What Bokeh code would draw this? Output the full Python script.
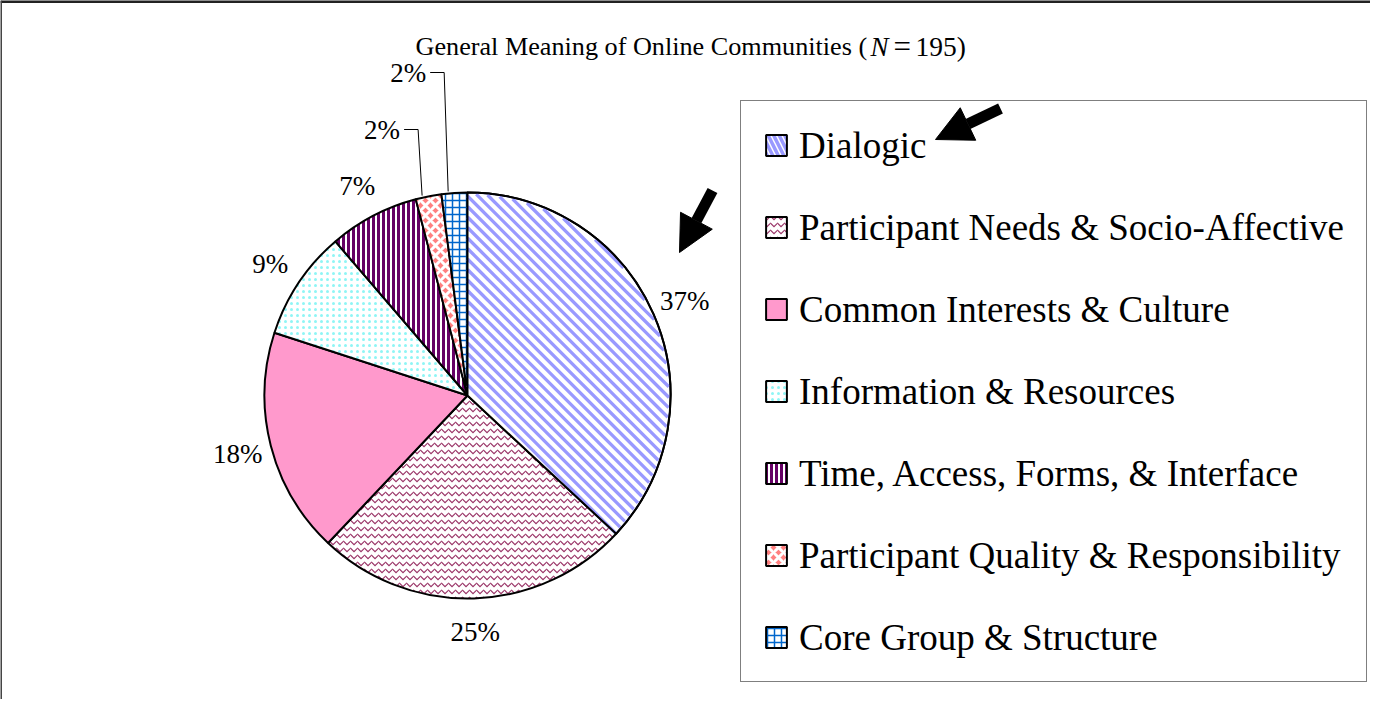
import numpy as np
from bokeh.plotting import figure
from bokeh.models import Legend, LegendItem, Range1d, Arrow, NormalHead, Span
from bokeh.core.properties import value
from bokeh.embed import file_html
from bokeh.resources import INLINE

# ---------------- data ----------------
title_parts = ["General Meaning of Online Communities (", "N", "=", "195)"]

categories = [
    "Dialogic",
    "Participant Needs & Socio-Affective",
    "Common Interests & Culture",
    "Information & Resources",
    "Time, Access, Forms, & Interface",
    "Participant Quality & Responsibility",
    "Core Group & Structure",
]
counts = [72, 49, 35, 17, 14, 4, 4]          # N = 195
pct_labels = ["37%", "25%", "18%", "9%", "7%", "2%", "2%"]

# ---------------- styles (Excel-like pattern fills) ----------------
fill_colors = ["white", "white", "#FF99CC", "white", "white", "#FF8080", "white"]
hatch_patterns = ["\\", "v", " ", ".", "|", "x", "+"]
hatch_colors = ["#9999FF", "#993366", "#FF99CC", "#8FF5F5", "#660066", "white", "#0066CC"]
hatch_scales = [11, 7, 12, 6, 5, 10, 7]
hatch_weights = [3.5, 1.2, 1, 2.5, 3, 3, 1.5]
STRIPE_STEP, STRIPE_W, STRIPE_COLOR = 10.5, 3.3, "#9999FF"   # 45-degree stripes of slice 0

FONT = "'Liberation Serif', 'Times New Roman', serif"
SERIF = value(FONT)
W, H = 1370, 699
cx, cy, R = 467, 304, 203
LABEL_R = 237

p = figure(width=W, height=H, x_range=Range1d(0, W), y_range=Range1d(0, H),
           output_backend="svg", toolbar_location=None, min_border=0,
           x_axis_location=None, y_axis_location=None)
p.grid.visible = False
p.outline_line_color = None
p.background_fill_color = "white"
p.border_fill_color = "white"

# frame lines (top and left, as in the reference crop)
p.add_layout(Span(location=H, dimension="width", line_color="#222222", line_width=5))
p.add_layout(Span(location=0, dimension="height", line_color="#444444", line_width=3))

# ---------------- pie ----------------
vals = np.array(counts, dtype=float)
frac = vals / vals.sum()
cum_end = np.cumsum(frac)
cum_start = cum_end - frac
start_angles = np.pi / 2 - 2 * np.pi * cum_end
end_angles = np.pi / 2 - 2 * np.pi * cum_start
mid_cw = 2 * np.pi * (cum_start + cum_end) / 2   # clockwise from 12 o'clock

items = []
for i, cat in enumerate(categories):
    r = p.wedge(x=cx, y=cy, radius=R,
                start_angle=start_angles[i], end_angle=end_angles[i],
                direction="anticlock",
                fill_color=fill_colors[i],
                hatch_pattern=hatch_patterns[i], hatch_color=hatch_colors[i],
                hatch_scale=hatch_scales[i], hatch_weight=hatch_weights[i],
                line_color="black", line_width=2)
    items.append(LegendItem(label=cat, renderers=[r]))

# slice 0: replace the steep built-in hatch by 45-degree stripes clipped to the sector
k = 0
p.wedge(x=cx, y=cy, radius=R - 1, start_angle=start_angles[k], end_angle=end_angles[k],
        direction="anticlock", fill_color="white", line_color=None)
angs = np.linspace(start_angles[k], end_angles[k], 60)
poly = np.vstack([[0.0, 0.0], np.c_[(R - 1.5) * np.cos(angs), (R - 1.5) * np.sin(angs)]])
edges = [(poly[j], poly[(j + 1) % len(poly)]) for j in range(len(poly))]
d = np.array([1.0, -1.0]) / np.sqrt(2)
xs, ys = [], []
for c in np.arange(-R * 1.5, R * 1.5, STRIPE_STEP):
    p0 = np.array([c / 2, c / 2])
    tmin, tmax = -1e9, 1e9
    ok = True
    for a, b in edges:
        e = b - a
        n = np.array([e[1], -e[0]])          # outward normal for a ccw polygon
        nd = n @ d
        rhs = n @ (a - p0)
        if abs(nd) < 1e-12:
            if rhs < 0:
                ok = False
                break
            continue
        t = rhs / nd
        if nd > 0:
            tmax = min(tmax, t)
        else:
            tmin = max(tmin, t)
    if ok and tmax > tmin:
        q0, q1 = p0 + tmin * d, p0 + tmax * d
        xs.append([cx + q0[0], cx + q1[0]])
        ys.append([cy + q0[1], cy + q1[1]])
p.multi_line(xs=xs, ys=ys, line_color=STRIPE_COLOR, line_width=STRIPE_W, line_cap="butt")
p.wedge(x=cx, y=cy, radius=R, start_angle=start_angles[k], end_angle=end_angles[k],
        direction="anticlock", fill_color=None, line_color="black", line_width=2)

# ---------------- percentage labels ----------------
big = [i for i in range(len(counts)) if frac[i] > 0.04]
lx = [cx + LABEL_R * np.sin(mid_cw[i]) for i in big]
ly = [cy + LABEL_R * np.cos(mid_cw[i]) for i in big]
p.text(x=lx, y=ly, text=[pct_labels[i] for i in big],
       text_font=SERIF, text_font_size="27px", text_color="black",
       text_align="center", text_baseline="middle")

# small slices: callout labels with leader lines
callout_height = {5: 266, 6: 323}   # height of label above the pie centre
for i, h in callout_height.items():
    ax = cx + (R + 2) * np.sin(mid_cw[i] - 0.03)
    ay = cy + (R + 2) * np.cos(mid_cw[i] - 0.03)
    ex = ax - 4
    p.line(x=[ex - 14, ex, ax], y=[cy + h, cy + h, ay], line_color="black", line_width=1)
    p.text(x=[ex - 18], y=[cy + h], text=[pct_labels[i]],
           text_font=SERIF, text_font_size="27px", text_color="black",
           text_align="right", text_baseline="middle")

# ---------------- title ----------------
t_x = [415, 870, 893, 915]
t_size = ["26.2px", "27px", "31px", "27.5px"]
t_style = ["normal", "italic", "normal", "normal"]
for part, x, sz, st in zip(title_parts, t_x, t_size, t_style):
    p.text(x=[x], y=[653], text=[part], text_font=SERIF, text_font_size=sz,
           text_font_style=st, text_align="left", text_baseline="alphabetic", text_color="black")

# ---------------- legend (transparent background so the arrow shows) ----------------
legend = Legend(items=items, location=(740, 17),
                label_text_font=FONT, label_text_font_size="37px",
                label_text_color="black",
                glyph_width=26, glyph_height=26, label_standoff=10,
                label_height=44, spacing=38, padding=22, margin=0,
                border_line_color="black", border_line_width=1,
                background_fill_color="white", background_fill_alpha=0)
p.add_layout(legend)

# ---------------- arrows ----------------
for (xs_, ys_, xe_, ye_) in [(1000, 591, 935, 560), (712, 509, 679, 447)]:
    p.add_layout(Arrow(x_start=xs_, y_start=ys_, x_end=xe_, y_end=ye_,
                       line_color="black", line_width=11, line_cap="butt",
                       end=NormalHead(size=36, fill_color="black", line_color="black", line_width=1)))

open("out.html", "w").write(file_html(p, INLINE))
